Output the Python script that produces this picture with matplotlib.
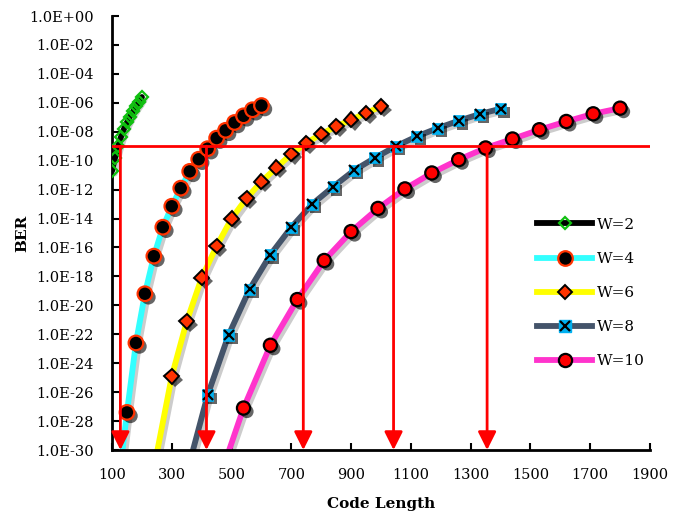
import numpy as np
import matplotlib
matplotlib.use("Agg")
import matplotlib.pyplot as plt
import matplotlib.patheffects as pe
from matplotlib.lines import Line2D

plt.rcParams['font.family'] = ['DejaVu Serif']

# data (log10 BER vs code length)
n_w2 = [100, 110, 120, 130, 140, 150, 160, 170, 180, 190, 200]
ber_w2 = [-10.7, -9.8, -9.0, -8.35, -7.8, -7.35, -6.95, -6.6, -6.25, -5.95, -5.6]

n_w4 = [150, 180, 210, 240, 270, 300, 330, 360, 390, 420, 450, 480, 510, 540, 570, 600]
ber_w4 = [-27.4, -22.6, -19.2, -16.6, -14.6, -13.15, -11.9, -10.74, -9.9, -9.17,
          -8.44, -7.9, -7.36, -6.9, -6.48, -6.19]

n_w6 = [300, 350, 400, 450, 500, 550, 600, 650, 700, 750, 800, 850, 900, 950, 1000]
ber_w6 = [-24.9, -21.1, -18.1, -15.9, -14.0, -12.6, -11.45, -10.48, -9.54, -8.78,
          -8.16, -7.63, -7.17, -6.71, -6.25]

n_w8 = [420, 490, 560, 630, 700, 770, 840, 910, 980, 1050, 1120, 1190, 1260, 1330, 1400]
ber_w8 = [-26.2, -22.05, -18.9, -16.5, -14.6, -13.0, -11.8, -10.67, -9.8, -9.0,
          -8.32, -7.75, -7.24, -6.78, -6.41]

n_w10 = [540, 630, 720, 810, 900, 990, 1080, 1170, 1260, 1350, 1440, 1530, 1620, 1710, 1800]
ber_w10 = [-27.1, -22.76, -19.6, -16.9, -14.9, -13.3, -11.95, -10.85, -9.93, -9.12,
           -8.5, -7.86, -7.29, -6.76, -6.37]

# where each smooth curve leaves through the bottom of the plot (BER = 1e-30)
n_start = {4: 135, 6: 252, 8: 371, 10: 492}

# code lengths where curves reach BER = 1e-9
arrow_x = [128, 416, 740, 1042, 1355]
ber_limit = 1e-9

fig = plt.figure(figsize=(6.86, 5.15), dpi=100)
ax = fig.add_axes([0.1633, 0.1262, 0.7842, 0.8427])

line_fx = [pe.SimpleLineShadow(offset=(2, -2), shadow_color='k', alpha=0.2), pe.Normal()]
mark_fx = [pe.SimplePatchShadow(offset=(2.5, -2.5), shadow_rgbFace='k', alpha=0.6), pe.Normal()]


def draw_curve(n, logber, color, start=None):
    xs = list(n)
    ys = list(logber)
    if start is not None:
        xs = [start] + xs
        ys = [-30.0] + ys
    ax.plot(xs, 10.0 ** np.array(ys), color=color, lw=4.2, solid_capstyle='round',
            path_effects=line_fx, zorder=2)


draw_curve(n_w2, ber_w2, 'black')
draw_curve(n_w4, ber_w4, '#33FFFF', n_start[4])
draw_curve(n_w6, ber_w6, '#FFFF00', n_start[6])
draw_curve(n_w8, ber_w8, '#44546A', n_start[8])
draw_curve(n_w10, ber_w10, '#FF33CC', n_start[10])

# markers
ax.plot(n_w2, 10.0 ** np.array(ber_w2), ls='none', marker='D', ms=6.5,
        mfc='none', mec='#10C010', mew=1.6, zorder=3)
ax.plot(n_w4, 10.0 ** np.array(ber_w4), ls='none', marker='o', ms=10.5,
        mfc='black', mec='#FF3300', mew=1.6, path_effects=mark_fx, zorder=3)
ax.plot(n_w6, 10.0 ** np.array(ber_w6), ls='none', marker='D', ms=7.5,
        mfc='#FF3300', mec='black', mew=1.4, path_effects=mark_fx, zorder=3)
ax.plot(n_w8, 10.0 ** np.array(ber_w8), ls='none', marker='s', ms=8,
        mfc='#00B0F0', mec='#00B0F0', mew=0.5, path_effects=mark_fx, zorder=3)
ax.plot(n_w8, 10.0 ** np.array(ber_w8), ls='none', marker='x', ms=7.5,
        mec='black', mew=1.6, zorder=4)
ax.plot(n_w10, 10.0 ** np.array(ber_w10), ls='none', marker='o', ms=9.5,
        mfc='#FF0000', mec='black', mew=1.6, path_effects=mark_fx, zorder=3)

# BER limit and the arrows down to the code length axis
ax.axhline(ber_limit, color='red', lw=2, zorder=5)
for x in arrow_x:
    ax.annotate('', xy=(x, 1e-30), xytext=(x, ber_limit),
                arrowprops=dict(arrowstyle='-|>,head_length=1.1,head_width=0.55',
                                color='red', lw=2, shrinkA=0, shrinkB=0),
                zorder=5)

ax.set_yscale('log')
ax.set_xlim(100, 1900)
ax.set_ylim(1e-30, 1e0)
ax.set_xticks(range(100, 2000, 200))
yexp = list(range(0, -32, -2))
ax.set_yticks([10.0 ** e for e in yexp])
ax.set_yticklabels([f"1.0E{e:+03d}" for e in yexp])
ax.yaxis.set_minor_locator(matplotlib.ticker.NullLocator())
ax.tick_params(direction='in', length=5, width=1.5, labelsize=10.5)
ax.tick_params(axis='x', pad=13)
ax.tick_params(axis='y', pad=13)

for side in ['top', 'right']:
    ax.spines[side].set_visible(False)
for side in ['left', 'bottom']:
    ax.spines[side].set_linewidth(2)

ax.set_xlabel('Code Length', fontsize=11, fontweight='bold', labelpad=11)
ax.set_ylabel('BER', fontsize=11, fontweight='bold', labelpad=0)

# legend
h2 = Line2D([], [], color='black', lw=4.2, marker='D', ms=6.5, mfc='none', mec='#10C010', mew=1.6)
h4 = Line2D([], [], color='#33FFFF', lw=4.2, marker='o', ms=10.5, mfc='black', mec='#FF3300', mew=1.6)
h6 = Line2D([], [], color='#FFFF00', lw=4.2, marker='D', ms=7.5, mfc='#FF3300', mec='black', mew=1.4)
h8a = Line2D([], [], color='#44546A', lw=4.2, marker='s', ms=8, mfc='#00B0F0', mec='#00B0F0')
h8b = Line2D([], [], ls='none', marker='x', ms=7.5, mec='black', mew=1.6)
h10 = Line2D([], [], color='#FF33CC', lw=4.2, marker='o', ms=9.5, mfc='#FF0000', mec='black', mew=1.6)
ax.legend([h2, h4, h6, (h8a, h8b), h10], ['W=2', 'W=4', 'W=6', 'W=8', 'W=10'],
          loc='upper left', bbox_to_anchor=(0.79, 0.535), frameon=False,
          fontsize=11, handlelength=3.6, handletextpad=0.3, labelspacing=1.32,
          borderpad=0, borderaxespad=0)

fig.savefig('out.png', dpi=100)
